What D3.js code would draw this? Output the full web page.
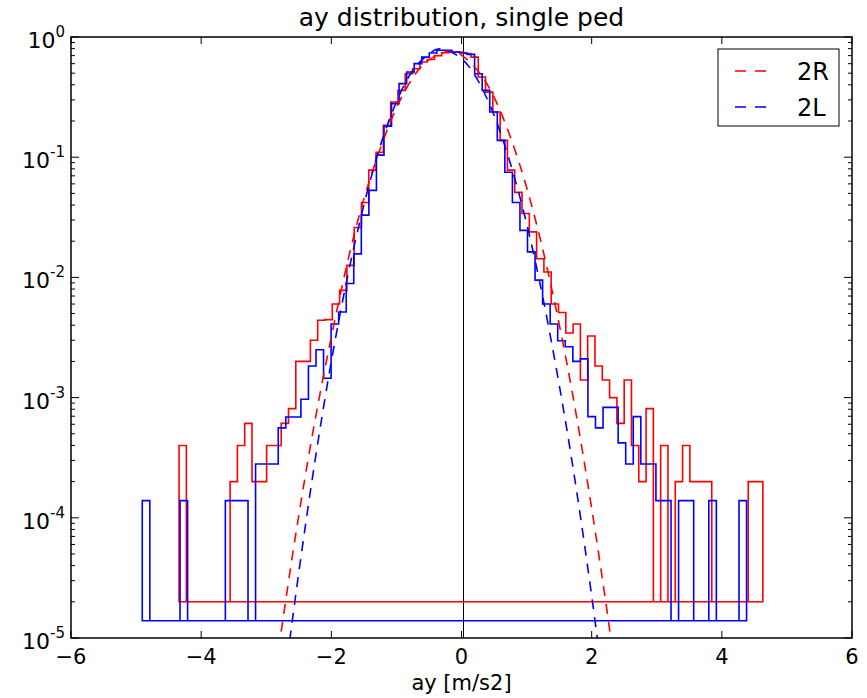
<!DOCTYPE html>
<html>
<head>
<meta charset="utf-8">
<script src="https://cdn.jsdelivr.net/npm/d3@7"></script>
<style>
  body { margin: 0; background: #fff; }
  svg { font-family: "DejaVu Sans", sans-serif; }
</style>
</head>
<body>
<svg id="chart" width="867" height="698"></svg>
<script>
// histogram ranges (min/max of the data, 80 bins each)
const redRange = [-4.34, 4.63];
const blueRange = [-4.905, 4.38];
const nBins = 80;

// normalised bin heights (0 = empty bin)
const red2R = [
  4.0e-4, 0, 0, 0, 0, 0, 0, 2.0e-4, 4.0e-4, 6.1e-4,
  2.0e-4, 2.0e-4, 4.0e-4, 4.0e-4, 6.1e-4, 8.1e-4, 2.0e-3, 2.0e-3, 3.0e-3, 4.4e-3,
  4.45e-3, 6.0e-3, 7.8e-3, 1.26e-2, 2.6e-2, 4.2e-2, 7.8e-2, 0.110, 0.184, 0.288,
  0.36, 0.495, 0.545, 0.62, 0.65, 0.70, 0.74, 0.75, 0.75, 0.73,
  0.68, 0.465, 0.348, 0.238, 0.138, 0.078, 0.051, 0.034, 0.0239, 0.0143,
  0.0111, 6.0e-3, 5.1e-3, 3.45e-3, 4.1e-3, 1.4e-3, 3.25e-3, 1.83e-3, 1.4e-3, 1.0e-3,
  6.1e-4, 1.4e-3, 4.0e-4, 2.0e-4, 8.1e-4, 0, 4.0e-4, 0, 2.0e-4, 4.0e-4,
  2.0e-4, 2.0e-4, 2.0e-4, 0, 0, 0, 0, 0, 2.0e-4, 2.0e-4
];
const blue2L = [
  1.39e-4, 0, 0, 0, 0, 1.39e-4, 0, 0, 0, 0,
  0, 1.39e-4, 1.39e-4, 1.39e-4, 0, 2.8e-4, 2.8e-4, 2.8e-4, 5.6e-4, 6.9e-4,
  6.9e-4, 9.7e-4, 1.83e-3, 2.5e-3, 1.45e-3, 4.1e-3, 5.15e-3, 8.9e-3, 1.57e-2, 3.3e-2,
  5.3e-2, 0.104, 0.181, 0.279, 0.409, 0.511, 0.60, 0.68, 0.736, 0.775,
  0.775, 0.75, 0.736, 0.717, 0.495, 0.36, 0.238, 0.138, 0.075, 0.042,
  0.0246, 0.0163, 9.5e-3, 6.0e-3, 4.1e-3, 2.97e-3, 2.65e-3, 2.0e-3, 2.1e-3, 6.95e-4,
  5.6e-4, 8.3e-4, 8.3e-4, 4.2e-4, 2.8e-4, 6.95e-4, 2.8e-4, 2.8e-4, 1.39e-4, 1.39e-4,
  0, 1.39e-4, 1.39e-4, 0, 0, 1.39e-4, 0, 0, 0, 1.39e-4
];

// dashed fit curves
const fitRX = [-3.0, -2.75, -2.5, -2.25, -2.0, -1.75, -1.5, -1.25, -1.0, -0.75, -0.5, -0.2,
               0, 0.25, 0.5, 0.75, 1.0, 1.25, 1.5, 1.75, 2.0, 2.25, 2.5];
const fit2R = [1.45e-6, 1.35e-5, 1.05e-4, 6.5e-4, 3.2e-3, 1.35e-2, 4.5e-2, 0.117, 0.257, 0.457, 0.646, 0.759,
               0.708, 0.525, 0.316, 0.148, 0.0562, 0.017, 4.1e-3, 7.9e-4, 1.2e-4, 1.48e-5, 1.45e-6];
const fitLX = [-3.0, -2.75, -2.5, -2.25, -2.0, -1.75, -1.5, -1.25, -1.0, -0.75, -0.5, -0.3,
               0, 0.25, 0.5, 0.75, 1.0, 1.25, 1.5, 1.75, 2.0, 2.25, 2.5];
const fit2L = [2.2e-7, 3.2e-6, 3.5e-5, 3.0e-4, 2.0e-3, 1.02e-2, 4.0e-2, 0.123, 0.288, 0.525, 0.724, 0.794,
               0.661, 0.437, 0.224, 0.089, 0.0282, 6.8e-3, 1.29e-3, 1.95e-4, 2.24e-5, 2.0e-6, 1.45e-7];

const xTicks = [-6, -4, -2, 0, 2, 4, 6];
const yTicks = [0, -1, -2, -3, -4, -5];

const margin = { top: 37, right: 15, bottom: 60, left: 71 };
const width = 781;
const height = 601;

const svg = d3.select("#chart");
svg.append("rect").attr("width", 867).attr("height", 698).attr("fill", "#fff");

const g = svg.append("g").attr("transform", `translate(${margin.left},${margin.top})`);

const x = d3.scaleLinear().domain([-6, 6]).range([0, width]);
const y = d3.scaleLog().domain([1e-5, 1]).range([height, 0]);

g.append("defs").append("clipPath").attr("id", "clip")
  .append("rect").attr("width", width).attr("height", height);

const plot = g.append("g").attr("clip-path", "url(#clip)");

// zero line
plot.append("line")
  .attr("x1", x(0) + 2).attr("x2", x(0) + 2)
  .attr("y1", 0).attr("y2", height)
  .attr("stroke", "#000").attr("stroke-width", 1);

function stepPath(vals, range) {
  const edges = d3.range(nBins + 1).map(i => range[0] + i * (range[1] - range[0]) / nBins);
  const base = d3.min(vals.filter(v => v > 0)) / 10;
  const pts = [[edges[0], base]];
  vals.forEach((v, i) => {
    const h = v > 0 ? v : base;
    pts.push([edges[i], h], [edges[i + 1], h]);
  });
  pts.push([edges[nBins], base]);
  return d3.line().x(d => x(d[0])).y(d => y(d[1]))(pts) + "Z";
}

plot.append("path").attr("d", stepPath(red2R, redRange))
  .attr("fill", "none").attr("stroke", "#ff0000").attr("stroke-width", 1.6);
plot.append("path").attr("d", stepPath(blue2L, blueRange))
  .attr("fill", "none").attr("stroke", "#0000ff").attr("stroke-width", 1.6);

const fitLine = d3.line().x(d => x(d[0])).y(d => y(d[1])).curve(d3.curveNatural);
plot.append("path").attr("d", fitLine(fitRX.map((v, i) => [v, fit2R[i]])))
  .attr("fill", "none").attr("stroke", "#ff0000").attr("stroke-width", 1.6)
  .attr("stroke-dasharray", "10,8");
plot.append("path").attr("d", fitLine(fitLX.map((v, i) => [v, fit2L[i]])))
  .attr("fill", "none").attr("stroke", "#0000ff").attr("stroke-width", 1.6)
  .attr("stroke-dasharray", "10,8");

// frame
g.append("rect").attr("width", width).attr("height", height)
  .attr("fill", "none").attr("stroke", "#000").attr("stroke-width", 1.5);

// x ticks (inward, top and bottom)
xTicks.forEach(t => {
  g.append("line").attr("x1", x(t)).attr("x2", x(t)).attr("y1", height).attr("y2", height - 7)
    .attr("stroke", "#000");
  g.append("line").attr("x1", x(t)).attr("x2", x(t)).attr("y1", 0).attr("y2", 7)
    .attr("stroke", "#000");
  g.append("text").attr("x", x(t)).attr("y", height + 26)
    .attr("text-anchor", "middle").style("font-size", "21px")
    .text(t < 0 ? "\u2212" + Math.abs(t) : t);
});

// y ticks (log, major + minor)
yTicks.forEach(e => {
  const v = Math.pow(10, e);
  [[0, 8], [width, width - 8]].forEach(([a, b]) =>
    g.append("line").attr("x1", a).attr("x2", b).attr("y1", y(v)).attr("y2", y(v)).attr("stroke", "#000"));
  if (e > -5) {
    for (let m = 2; m <= 9; m++) {
      const mv = m * Math.pow(10, e - 1);
      [[0, 4], [width, width - 4]].forEach(([a, b]) =>
        g.append("line").attr("x1", a).attr("x2", b).attr("y1", y(mv)).attr("y2", y(mv)).attr("stroke", "#000"));
    }
  }
  const lab = g.append("text").attr("x", -6).attr("y", y(v) + 11)
    .attr("text-anchor", "end").style("font-size", "22px");
  lab.append("tspan").text("10");
  lab.append("tspan").attr("dy", -11).style("font-size", "15px").text(e === 0 ? "0" : "-" + Math.abs(e));
});

// title and axis label
g.append("text").attr("x", width / 2).attr("y", -11).attr("text-anchor", "middle")
  .style("font-size", "25px").text("ay distribution, single ped");
g.append("text").attr("x", width / 2).attr("y", height + 52).attr("text-anchor", "middle")
  .style("font-size", "21px").text("ay [m/s2]");

// legend
const legend = g.append("g").attr("transform", `translate(${width - 134},12)`);
legend.append("rect").attr("width", 121).attr("height", 77)
  .attr("fill", "#fff").attr("stroke", "#000").attr("stroke-width", 1);
[["2R", "#ff0000"], ["2L", "#0000ff"]].forEach(([name, col], i) => {
  const yy = 22 + i * 36;
  legend.append("line").attr("x1", 17).attr("x2", 50).attr("y1", yy).attr("y2", yy)
    .attr("stroke", col).attr("stroke-width", 1.6).attr("stroke-dasharray", "11,9");
  legend.append("text").attr("x", 79).attr("y", yy + 9).style("font-size", "24px").text(name);
});
</script>
</body>
</html>
